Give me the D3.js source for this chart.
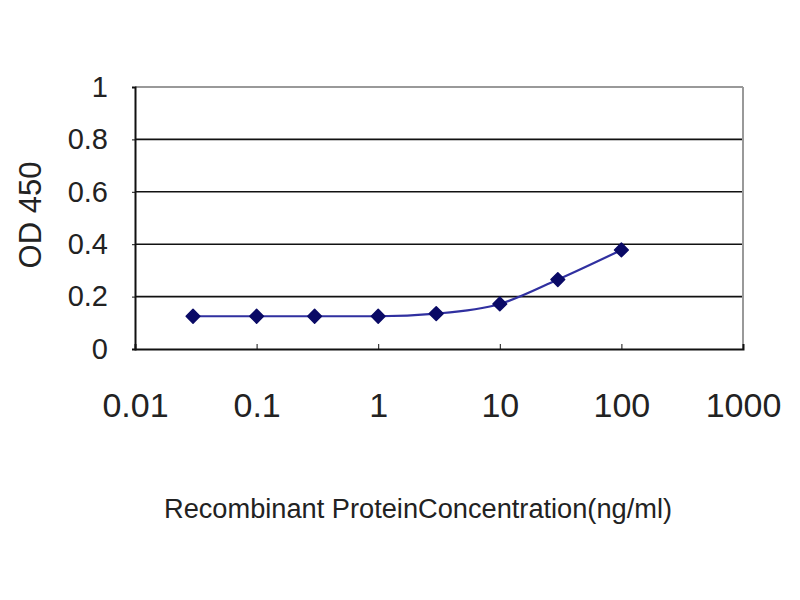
<!DOCTYPE html>
<html>
<head>
<meta charset="utf-8">
<script src="https://cdn.jsdelivr.net/npm/d3@7"></script>
<style>
  body { margin: 0; background: #fff; }
  text { font-family: "Liberation Sans", Arial, sans-serif; fill: #222; }
</style>
</head>
<body>
<div id="container"></div>
<script>
// data
let concentrations = [0.03, 0.1, 0.3, 1, 3, 10, 30, 100];
let od450 = [0.125, 0.125, 0.125, 0.125, 0.135, 0.172, 0.265, 0.378];
let xTicks = [0.01, 0.1, 1, 10, 100, 1000];
let xTickLabels = ["0.01", "0.1", "1", "10", "100", "1000"];
let yTicks = [0, 0.2, 0.4, 0.6, 0.8, 1];
let yTickLabels = ["0", "0.2", "0.4", "0.6", "0.8", "1"];

let w = 800;
let h = 600;
let plotLeft = 135, plotRight = 743, plotTop = 87, plotBottom = 349;

let viz = d3.select("#container")
  .append("svg")
    .attr("width", w)
    .attr("height", h)
;

let x = d3.scaleLog().domain([0.01, 1000]).range([plotLeft, plotRight]);
let y = d3.scaleLinear().domain([0, 1]).range([plotBottom, plotTop]);

// gridlines (top one is grey like the frame)
viz.selectAll("line.grid").data(yTicks.slice(1))
  .enter().append("line")
    .attr("class", "grid")
    .attr("x1", plotLeft).attr("x2", plotRight)
    .attr("y1", d => y(d)).attr("y2", d => y(d))
    .attr("stroke", d => d === 1 ? "#999" : "#111")
    .attr("stroke-width", d => d === 1 ? 2 : 1.6)
;

// right frame
viz.append("line")
  .attr("x1", plotRight).attr("x2", plotRight)
  .attr("y1", plotTop).attr("y2", plotBottom)
  .attr("stroke", "#999").attr("stroke-width", 2);

// y axis
let yAxis = d3.axisLeft(y).tickValues(yTicks).tickSize(3)
  .tickFormat((d, i) => yTickLabels[i]);
let gy = viz.append("g").attr("transform", `translate(${plotLeft},0)`).call(yAxis);
gy.select(".domain").attr("stroke", "#111").attr("stroke-width", 2);
gy.selectAll(".tick line").attr("stroke", "#111");
gy.selectAll(".tick text")
  .attr("x", -27)
  .style("font-size", "29px")
  .style("font-family", "Liberation Sans, Arial, sans-serif")
  .attr("fill", "#333");

// x axis, ticks point inward
let xAxis = d3.axisBottom(x).tickValues(xTicks).tickSize(-5)
  .tickFormat((d, i) => xTickLabels[i]);
let gx = viz.append("g").attr("transform", `translate(0,${plotBottom})`).call(xAxis);
gx.select(".domain").attr("stroke", "#111").attr("stroke-width", 2);
gx.selectAll(".tick line").attr("stroke", "#111");
gx.selectAll(".tick text")
  .attr("y", 57)
  .attr("dy", "0.32em")
  .style("font-size", "34px")
  .style("font-family", "Liberation Sans, Arial, sans-serif")
  .attr("fill", "#333");

// series
let points = concentrations.map((c, i) => ({ c: c, v: od450[i] }));

let lineMaker = d3.line()
  .x(d => x(d.c))
  .y(d => y(d.v))
  .curve(d3.curveMonotoneX)
;

viz.append("path")
  .datum(points)
  .attr("d", lineMaker)
  .attr("fill", "none")
  .attr("stroke", "#3030a0")
  .attr("stroke-width", 2.2)
;

let diamond = d3.symbol().type(d3.symbolDiamond2).size(120);
viz.selectAll("path.marker").data(points)
  .enter().append("path")
    .attr("class", "marker")
    .attr("d", diamond)
    .attr("transform", d => `translate(${x(d.c)},${y(d.v)})`)
    .attr("fill", "#0a0a66")
    .attr("stroke", "#0a0a66")
    .attr("stroke-width", 1.5)
    .attr("stroke-linejoin", "round")
;

// titles
viz.append("text")
  .attr("transform", "translate(41,215) rotate(-90)")
  .attr("text-anchor", "middle")
  .style("font-size", "31px")
  .attr("fill", "#333")
  .text("OD 450");

viz.append("text")
  .attr("x", 418)
  .attr("y", 518)
  .attr("text-anchor", "middle")
  .attr("textLength", 508)
  .attr("lengthAdjust", "spacingAndGlyphs")
  .style("font-size", "27px")
  .attr("fill", "#222")
  .text("Recombinant ProteinConcentration(ng/ml)");
</script>
</body>
</html>
